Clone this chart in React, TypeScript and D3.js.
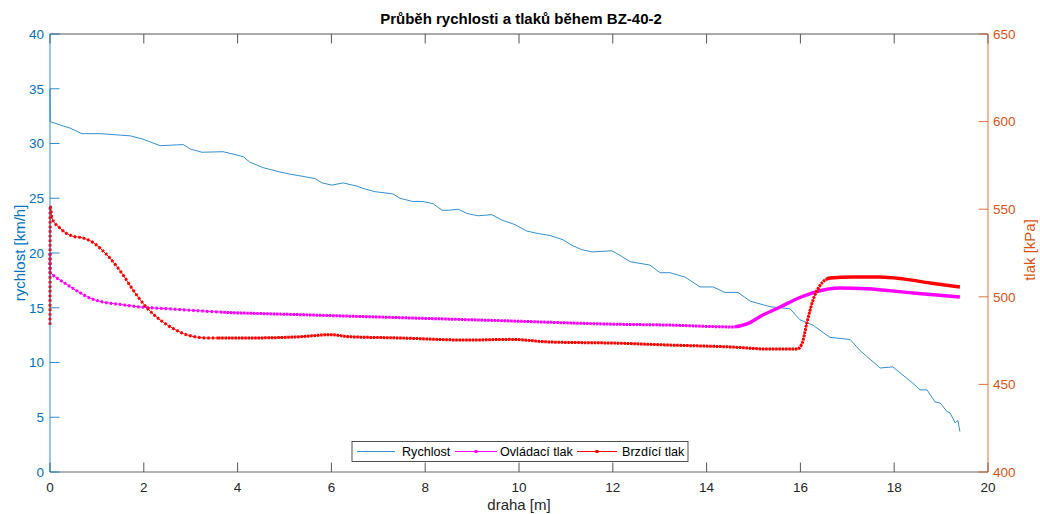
import React from "react";
import * as d3 from "d3";

// ---- data ----
const speedX = [0, 0.003, 0.21, 0.43, 0.68, 1.07, 1.71, 1.98, 2.35, 2.84, 2.99, 3.24, 3.69, 3.84, 4.12, 4.26, 4.54, 4.90, 5.12, 5.39, 5.65, 5.80, 6.01, 6.25, 6.55, 6.67, 6.93, 7.31, 7.46, 7.74, 7.95, 8.17, 8.36, 8.49, 8.70, 8.90, 9.13, 9.42, 9.64, 9.91, 10.17, 10.38, 10.66, 10.94, 11.13, 11.34, 11.56, 11.98, 12.15, 12.37, 12.79, 13.01, 13.22, 13.54, 13.86, 14.14, 14.39, 14.67, 14.93, 15.35, 15.78, 15.99, 16.27, 16.63, 17.06, 17.27, 17.70, 17.97, 18.40, 18.55, 18.70, 18.87, 18.98, 19.13, 19.19, 19.30, 19.36, 19.40];
const speedV = [35.0, 32.0, 31.7, 31.4, 30.9, 30.9, 30.7, 30.4, 29.8, 29.9, 29.5, 29.2, 29.25, 29.1, 28.8, 28.3, 27.8, 27.4, 27.2, 27.0, 26.8, 26.4, 26.2, 26.4, 26.1, 25.9, 25.6, 25.4, 25.0, 24.7, 24.7, 24.5, 23.9, 23.9, 24.0, 23.6, 23.4, 23.5, 23.0, 22.6, 22.0, 21.8, 21.6, 21.2, 20.7, 20.3, 20.1, 20.2, 19.8, 19.2, 18.9, 18.2, 18.2, 17.8, 16.9, 16.9, 16.4, 16.4, 15.6, 15.1, 14.9, 13.9, 13.4, 12.3, 12.1, 11.1, 9.5, 9.6, 8.1, 7.5, 7.5, 6.4, 6.3, 5.5, 5.4, 4.5, 4.7, 3.7];

const ctrlX = [0, 0.003, 0.04, 0.28, 0.58, 0.85, 1.13, 1.43, 1.92, 2.62, 3.62, 5.33, 7.46, 9.59, 12.15, 13.16, 14.56, 14.86, 15.20, 15.57, 15.99, 16.35, 16.84, 17.42, 18.40, 19.40];
const ctrlP = [525, 514, 513, 508.4, 503.3, 499.3, 497, 495.9, 494.2, 493, 491.3, 489.8, 488.1, 486.4, 484.3, 483.9, 482.8, 484.5, 489.6, 494.2, 499.6, 503.0, 505.0, 504.6, 502.2, 499.9];

const brakeX = [0, 0.003, 0.04, 0.21, 0.47, 0.70, 0.90, 1.11, 1.28, 1.56, 1.77, 2.07, 2.35, 2.62, 2.92, 3.35, 4.26, 5.33, 5.97, 6.40, 7.46, 8.89, 9.81, 10.66, 12.15, 13.16, 14.56, 15.29, 15.93, 16.03, 16.14, 16.27, 16.42, 16.63, 17.12, 17.70, 18.19, 18.76, 19.40];
const brakeP = [484, 552, 545, 539.3, 534.7, 533.6, 531.3, 526.7, 522, 512.4, 503.9, 493.6, 486.8, 482, 478.3, 476.5, 476.5, 477.2, 478.4, 477.2, 476.5, 475.3, 475.7, 474.2, 473.5, 472.5, 471.3, 470.2, 470.2, 473.0, 485.3, 498.2, 506.5, 510.7, 511.3, 511.3, 510.2, 507.9, 505.6];

const xTicks = [0, 2, 4, 6, 8, 10, 12, 14, 16, 18, 20];
const leftTicks = [0, 5, 10, 15, 20, 25, 30, 35, 40];
const rightTicks = [400, 450, 500, 550, 600, 650];

const titleText = "Průběh rychlosti a tlaků během BZ-40-2";
const xLabel = "draha [m]";
const leftLabel = "rychlost [km/h]";
const rightLabel = "tlak [kPa]";
const legendNames = ["Rychlost", "Ovládací tlak", "Brzdící tlak"];

// ---- layout ----
const W = 1040, H = 514;
const L = 50, R = 988, T = 34, B = 472;
const BLUE = "#0072BD";
const ORANGE = "#D95319";
const MAG = "#FF00FF";
const RED = "#FF0000";
const FONT = "'Liberation Sans', Arial, Helvetica, sans-serif";

export default function App() {
  const x = d3.scaleLinear().domain([0, 20]).range([L, R]);
  const yL = d3.scaleLinear().domain([0, 40]).range([B, T]);
  const yR = d3.scaleLinear().domain([400, 650]).range([B, T]);

  const speedLine = d3.line<number>().x((d, i) => x(speedX[i])).y((d) => yL(d));
  const ctrlLine = d3.line<number>().curve(d3.curveMonotoneX).x((d, i) => x(ctrlX[i])).y((d) => yR(d));
  const brakeLine = d3.line<number>().curve(d3.curveMonotoneX).x((d, i) => x(brakeX[i])).y((d) => yR(d));

  const sPath = speedLine(speedV) || "";
  const cPath = ctrlLine(ctrlP) || "";
  const bPath = brakeLine(brakeP) || "";

  const tickLen = 9.5;

  const markerOverlay = (d: string, color: string, id: string, denseFrom: number) => (
    <g>
      <path d={d} fill="none" stroke={color} strokeWidth={1} />
      <g clipPath={`url(#${id}-a)`}>
        <path d={d} fill="none" stroke={color} strokeWidth={3} strokeDasharray="2.4 2.2" />
      </g>
      <g clipPath={`url(#${id}-b)`}>
        <path d={d} fill="none" stroke={color} strokeWidth={3} strokeDasharray="2.4 0.9" />
      </g>
      <g clipPath={`url(#${id}-c)`}>
        <path d={d} fill="none" stroke={color} strokeWidth={3.4} />
      </g>
      <defs>
        <clipPath id={`${id}-a`}>
          <rect x={0} y={0} width={x(3.6)} height={H} />
        </clipPath>
        <clipPath id={`${id}-b`}>
          <rect x={x(3.6)} y={0} width={x(denseFrom) - x(3.6)} height={H} />
        </clipPath>
        <clipPath id={`${id}-c`}>
          <rect x={x(denseFrom)} y={0} width={W} height={H} />
        </clipPath>
      </defs>
    </g>
  );

  return (
    <svg width={W} height={H} style={{ position: "absolute", left: 0, top: 0, background: "#fff" }} fontFamily={FONT}>
      <rect x={0} y={0} width={W} height={H} fill="#fff" />
      {/* data */}
      <path d={sPath} fill="none" stroke={BLUE} strokeWidth={0.8} />
      {markerOverlay(cPath, MAG, "ctrl", 14.6)}
      {markerOverlay(bPath, RED, "brake", 16.55)}

      {/* top axis line and ticks */}
      <line x1={L} x2={R} y1={T} y2={T} stroke="#555" strokeWidth={1} />
      {xTicks.map((t) => (
        <line key={"tt" + t} x1={x(t)} x2={x(t)} y1={T} y2={T + tickLen} stroke="#555" strokeWidth={1} />
      ))}
      {/* bottom axis */}
      <line x1={L} x2={R} y1={B} y2={B} stroke="#9a9a9a" strokeWidth={1.5} />
      {xTicks.map((t) => (
        <g key={"bt" + t}>
          <line x1={x(t)} x2={x(t)} y1={B} y2={B - tickLen} stroke="#555" strokeWidth={1} />
          <text x={x(t)} y={492} textAnchor="middle" fontSize={13.5} fill="#262626">{t}</text>
        </g>
      ))}
      {/* left axis */}
      <line x1={L} x2={L} y1={T} y2={B} stroke={BLUE} strokeWidth={1} opacity={0.8} />
      {leftTicks.map((t) => (
        <g key={"lt" + t}>
          <line x1={L} x2={L + tickLen} y1={yL(t)} y2={yL(t)} stroke={BLUE} strokeWidth={1} opacity={0.8} />
          <text x={44} y={yL(t) + 4.8} textAnchor="end" fontSize={13.5} fill={BLUE}>{t}</text>
        </g>
      ))}
      {/* right axis */}
      <line x1={R} x2={R} y1={T} y2={B} stroke={ORANGE} strokeWidth={1} opacity={0.8} />
      {rightTicks.map((t) => (
        <g key={"rt" + t}>
          <line x1={R} x2={R - tickLen} y1={yR(t)} y2={yR(t)} stroke={ORANGE} strokeWidth={1} opacity={0.8} />
          <text x={993} y={yR(t) + 4.8} textAnchor="start" fontSize={13.5} fill={ORANGE}>{t}</text>
        </g>
      ))}

      {/* labels */}
      <text x={521} y={24} textAnchor="middle" fontSize={15} fontWeight="bold" fill="#000">{titleText}</text>
      <text x={519} y={510} textAnchor="middle" fontSize={15} fill="#262626">{xLabel}</text>
      <text transform={`translate(25,${(T + B) / 2}) rotate(-90)`} textAnchor="middle" fontSize={15} fill={BLUE}>{leftLabel}</text>
      <text transform={`translate(1035,${(T + B) / 2 - 3}) rotate(-90)`} textAnchor="middle" fontSize={15} fill={ORANGE}>{rightLabel}</text>

      {/* legend */}
      <g>
        <rect x={352} y={441.5} width={336} height={20} fill="#fff" stroke="#262626" strokeWidth={0.8} />
        <line x1={357} x2={395} y1={451.5} y2={451.5} stroke={BLUE} strokeWidth={0.8} />
        <text x={402} y={456} fontSize={12.6} fill="#000">{legendNames[0]}</text>
        <line x1={455} x2={497} y1={451.5} y2={451.5} stroke={MAG} strokeWidth={1} />
        <rect x={474.5} y={450} width={3} height={3} fill={MAG} />
        <text x={500} y={456} fontSize={12.6} fill="#000">{legendNames[1]}</text>
        <line x1={577} x2={617} y1={451.5} y2={451.5} stroke={RED} strokeWidth={1} />
        <rect x={595.5} y={450} width={3} height={3} fill={RED} />
        <text x={622} y={456} fontSize={12.6} fill="#000">{legendNames[2]}</text>
      </g>
    </svg>
  );
}
